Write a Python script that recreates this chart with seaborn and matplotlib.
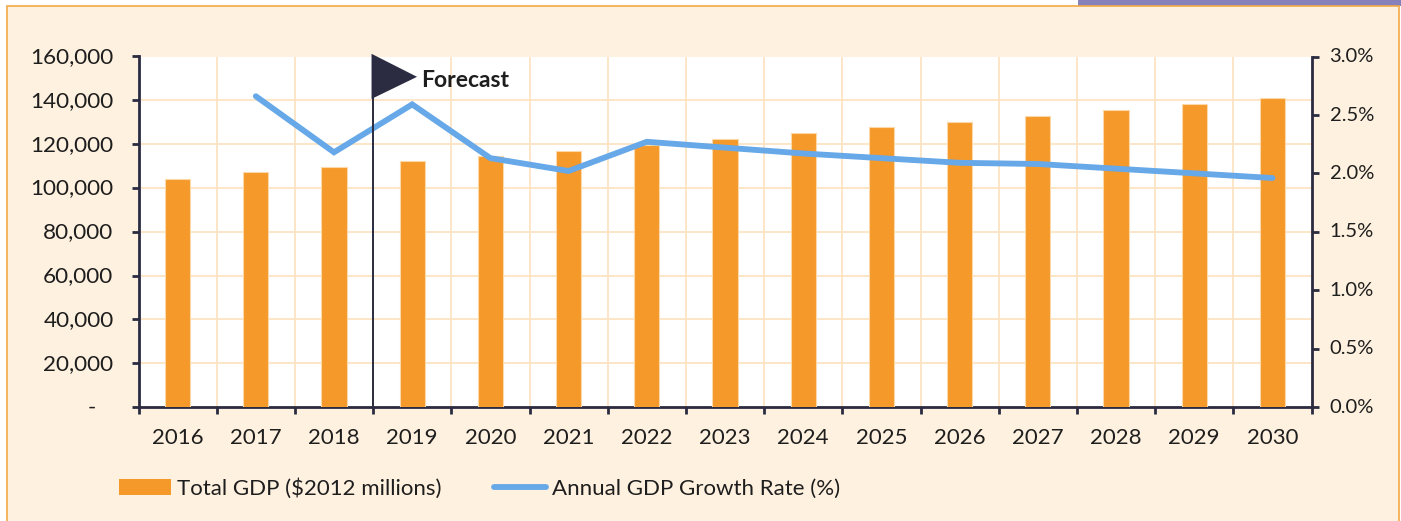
import numpy as np
import pandas as pd
import matplotlib
matplotlib.use("Agg")
import matplotlib.pyplot as plt
from matplotlib.lines import Line2D
from matplotlib.patches import Patch, Polygon, Rectangle
from matplotlib.ticker import FuncFormatter
from matplotlib.transforms import ScaledTranslation
import seaborn as sns

years = ["2016", "2017", "2018", "2019", "2020", "2021", "2022", "2023",
         "2024", "2025", "2026", "2027", "2028", "2029", "2030"]
total_gdp = [104200, 107100, 109400, 112300, 114600, 117000, 119600, 122400,
             125000, 127700, 130300, 133000, 135800, 138400, 141100]
growth_rate = [np.nan, 2.66, 2.18, 2.59, 2.13, 2.02, 2.27, 2.22,
               2.17, 2.13, 2.09, 2.08, 2.04, 2.00, 1.96]
left_ticks = [0, 20000, 40000, 60000, 80000, 100000, 120000, 140000, 160000]
right_ticks = [0.0, 0.5, 1.0, 1.5, 2.0, 2.5, 3.0]

BAR = "#F5992B"
LINE = "#66A8E8"
DARK = "#2B2B42"
GRID = "#FCE4C2"
CARD = "#FEF1DF"
EDGE = "#F2AA45"
PURPLE = "#8781BC"
W, H = 1401, 521

sns.set_theme(style="white")
plt.rcParams['font.family'] = ['Lato', 'DejaVu Sans']
plt.rcParams['text.color'] = '#1E1E1E'

df = pd.DataFrame({"year": years, "gdp": total_gdp, "growth": growth_rate, "pos": np.arange(len(years))})

fig = plt.figure(figsize=(W / 100, H / 100), dpi=100, facecolor="white")

# card and the purple strip above it, in pixels from the top left
fig.patches.append(Rectangle((1078 / W, 1 - 6 / H), 323 / W, 6 / H, transform=fig.transFigure,
                             facecolor=PURPLE, edgecolor="none", zorder=-2))
fig.patches.append(Rectangle((7 / W, -5 / H), 1392 / W, 1 - 0 / H - 1 / H, transform=fig.transFigure,
                             facecolor=CARD, edgecolor=EDGE, linewidth=1.2, zorder=-1))

ax_left, ax_right, ax_top, ax_bottom = 138.5, 1311.5, 56.5, 407
ax = fig.add_axes([ax_left / W, 1 - ax_bottom / H, (ax_right - ax_left) / W, (ax_bottom - ax_top) / H],
                  facecolor="white")
sns.barplot(data=df, x="year", y="gdp", color=BAR, width=0.32, saturation=1, ax=ax, zorder=3,
            edgecolor="#FBD9A8", linewidth=0.8)
ax.set_xlim(-0.5, len(years) - 0.5)
ax.set_ylim(0, 160000)
ax.set_xlabel("")
ax.set_ylabel("")

# category labels sit between the boundary ticks
ax.set_xticks(np.arange(len(years) + 1) - 0.5)
ax.set_xticklabels([])
ax.set_xticks(np.arange(len(years)), labels=years, minor=True)
ax.tick_params(axis="x", which="major", direction="out", length=5, width=2, color=DARK, bottom=True)
ax.tick_params(axis="x", which="minor", length=0, pad=15, labelsize=16, labelcolor="#1E1E1E")
ax.set_yticks(left_ticks)
ax.yaxis.set_major_formatter(FuncFormatter(lambda v, _: "-\u00a0\u00a0\u00a0" if v == 0 else f"{int(v):,}"))
ax.tick_params(axis="y", direction="out", length=5, width=2, color=DARK, left=True, pad=13,
               labelsize=16.2, labelcolor="#1E1E1E")
ax.grid(True, which="major", color=GRID, linewidth=1.3, zorder=0)
ax.set_axisbelow(True)
for name in ["top", "right"]:
    ax.spines[name].set_visible(False)
for name in ["left", "bottom"]:
    ax.spines[name].set_color(DARK)
    ax.spines[name].set_linewidth(2)

ax2 = ax.twinx()
sns.lineplot(data=df, x="pos", y="growth", color=LINE, linewidth=4.2, ax=ax2, zorder=5,
             solid_capstyle="round", solid_joinstyle="miter", errorbar=None)
ax2.set_ylim(0, 3)
ax2.set_xlim(-0.5, len(years) - 0.5)
ax2.set_ylabel("")
ax2.set_yticks(right_ticks)
ax2.yaxis.set_major_formatter(FuncFormatter(lambda v, _: f"{v:.1f}%"))
ax2.tick_params(axis="y", direction="out", length=5, width=2, color=DARK, right=True, pad=8,
                labelsize=14.5, labelcolor="#1E1E1E")
ax2.grid(False)
for name in ["top", "left", "bottom"]:
    ax2.spines[name].set_visible(False)
ax2.spines["right"].set_color(DARK)
ax2.spines["right"].set_linewidth(2)

# nudge y labels up to sit centred on their ticks
nudge = ScaledTranslation(0, 1.0 / 72, fig.dpi_scale_trans)
for label in ax.get_yticklabels() + ax2.get_yticklabels():
    label.set_transform(label.get_transform() + nudge)

# forecast marker between 2018 and 2019
trans = ax2.get_xaxis_transform()
ax2.axvline(2.5, color=DARK, linewidth=1.4, zorder=6)
px = (ax_right - ax_left) / len(years)
ax2.add_patch(Polygon([(2.48, 1.0077), (2.48, 0.879), (2.48 + 45.5 / px, 0.942)], closed=True, transform=trans,
                      facecolor=DARK, edgecolor="none", clip_on=False, zorder=7))
ax2.text(2.5 + 48 / px, 0.932, "Forecast", transform=trans, ha="left", va="center",
         fontsize=16.5, fontweight="bold", color="#1E1E1E", zorder=8)

handles = [Patch(facecolor=BAR, edgecolor="none"), Line2D([0], [0], color=LINE, linewidth=4.2, solid_capstyle="round")]
labels = ["Total GDP ($2012 millions)", "Annual GDP Growth Rate (%)"]
fig.legend(handles, labels, loc="center left", bbox_to_anchor=(119 / W, 1 - 488.5 / H), ncol=2, frameon=False,
           fontsize=16, borderpad=0, borderaxespad=0, handlelength=2.34, handleheight=0.75, handletextpad=0.25,
           columnspacing=2.4)

fig.savefig("out.png", dpi=100, facecolor=fig.get_facecolor())
